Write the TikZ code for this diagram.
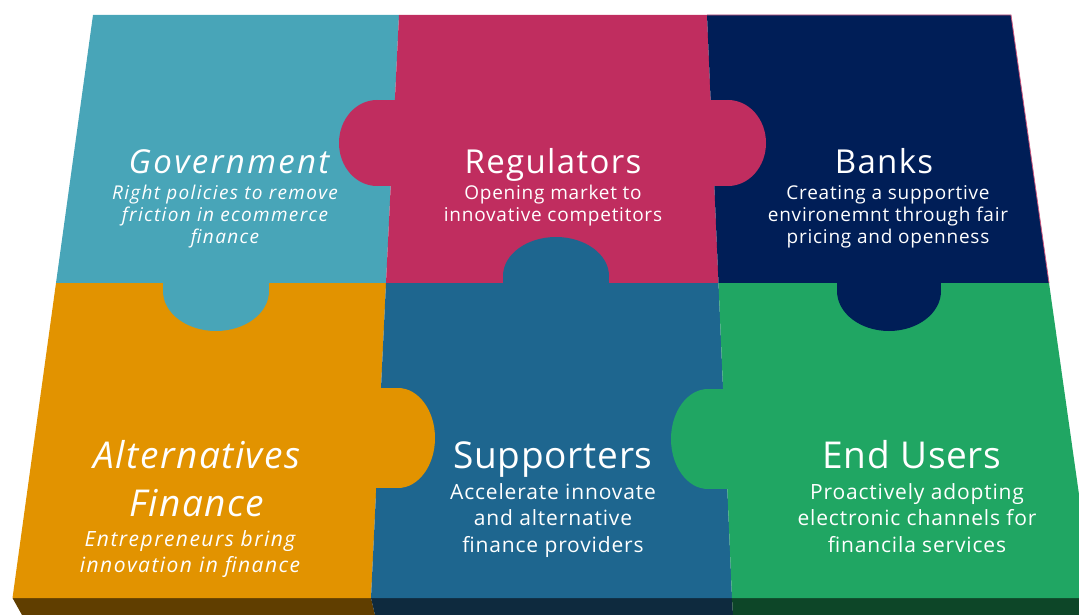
\documentclass[tikz,border=0pt]{standalone}
\usepackage{fontspec}
\setmainfont{Open Sans}
\newfontfamily\midfam[LetterSpace=2]{Open Sans}
\newfontfamily\upfam[LetterSpace=4]{Open Sans}
\newfontfamily\itfam[LetterSpace=7]{Open Sans}
\definecolor{govcol}{RGB}{72,165,184}
\definecolor{regcol}{RGB}{192,45,95}
\definecolor{bankcol}{RGB}{0,30,87}
\definecolor{altcol}{RGB}{226,147,0}
\definecolor{supcol}{RGB}{30,102,143}
\definecolor{usercol}{RGB}{32,166,99}
\definecolor{altside}{RGB}{96,62,0}
\definecolor{supside}{RGB}{14,42,62}
\definecolor{userside}{RGB}{13,70,40}

\begin{document}
\begin{tikzpicture}[x=1pt,y=-1pt,
  tophead/.style={text=white,inner sep=0pt,anchor=base,font=\upfam\fontsize{33}{40}\selectfont},
  topbody/.style={text=white,inner sep=0pt,anchor=north,align=center,font=\upfam\fontsize{19}{22}\selectfont},
  lowhead/.style={text=white,inner sep=0pt,anchor=base,align=center,font=\midfam\fontsize{37}{48}\selectfont},
  lowbody/.style={text=white,inner sep=0pt,anchor=north,align=center,font=\upfam\fontsize{21}{26.5}\selectfont}]
\useasboundingbox (0,0) rectangle (1079,615);
\clip (0,0) rectangle (1079,615);
\coordinate (a0) at (93,15);\coordinate (a1) at (399,15);\coordinate (a2) at (707,15);\coordinate (a3) at (1011,15);
\coordinate (b0) at (56,283);\coordinate (b1) at (386,283);\coordinate (b2) at (718.5,283);\coordinate (b3) at (1049,283);
\coordinate (c0) at (12.5,598);\coordinate (c1) at (371,598);\coordinate (c2) at (732,598);\coordinate (c3) at (1093.7,598);
\coordinate (d0) at (22,615);\coordinate (d1) at (375,615);\coordinate (d2) at (733,615);\coordinate (d3) at (1100,615);
\fill[altside] (c0)--(c1)--(d1)--(d0)--cycle;
\fill[supside] (c1)--(c2)--(d2)--(d1)--cycle;
\fill[userside] (c2)--(c3)--(d3)--(d2)--cycle;
\fill[govcol] (a0)--(a1)--(b1)--(b0)--cycle;
\fill[regcol] (a1)--(a2)--(b2)--(b1)--cycle;
\fill[bankcol] (a2)--(a3)--(b3)--(b2)--cycle;
\fill[altcol] (b0)--(b1)--(c1)--(c0)--cycle;
\fill[supcol] (b1)--(b2)--(c2)--(c1)--cycle;
\fill[usercol] (b2)--(b3)--(c3)--(c2)--cycle;
\draw[regcol!80,line width=0.8pt] (a2)--(a3)--(b3);
\fill[regcol] (377,143) ellipse[x radius=38,y radius=43];
\fill[regcol] (377,100) rectangle (400,186);
\fill[regcol] (728,143) ellipse[x radius=38,y radius=43];
\fill[regcol] (704,100) rectangle (728,186);
\fill[govcol] (216,291) ellipse[x radius=53,y radius=40];
\fill[govcol] (163,276) rectangle (269,291);
\fill[bankcol] (889,291) ellipse[x radius=52,y radius=40];
\fill[bankcol] (837,276) rectangle (941,291);
\fill[supcol] (556,276) ellipse[x radius=53,y radius=39];
\fill[supcol] (503,276) rectangle (609,290);
\fill[altcol] (398,438) ellipse[x radius=37,y radius=50];
\fill[altcol] (370,388) rectangle (398,488);
\fill[usercol] (708,439) ellipse[x radius=37,y radius=50];
\fill[usercol] (708,389) rectangle (736,489);
\node[tophead,font=\itfam\fontsize{33}{40}\selectfont\itshape] (govhead) at (229,173) {Government};
\node[topbody,font=\itfam\fontsize{19}{22}\selectfont\itshape] (govbody) at (225,185) {Right policies to remove\\friction in ecommerce\\finance};
\node[tophead] (reghead) at (553,173) {Regulators};
\node[topbody] (regbody) at (553,185) {Opening market to\\innovative competitors};
\node[tophead] (bankhead) at (884,173) {Banks};
\node[topbody] (bankbody) at (888,185) {Creating a supportive\\environemnt through fair\\pricing and openness};
\node[lowhead,anchor=north,font=\upfam\fontsize{37}{48}\selectfont\itshape] (althead) at (197,440) {Alternatives\\Finance};
\node[lowbody,font=\itfam\fontsize{21}{26.5}\selectfont\itshape] (altbody) at (190,530) {Entrepreneurs bring\\innovation in finance};
\node[lowhead] (suphead) at (553,468) {Supporters};
\node[lowbody] (supbody) at (553,483) {Accelerate innovate\\and alternative\\finance providers};
\node[lowhead] (userhead) at (912,468) {End Users};
\node[lowbody] (userbody) at (917,483) {Proactively adopting\\electronic channels for\\financila services};
\end{tikzpicture}
\end{document}
